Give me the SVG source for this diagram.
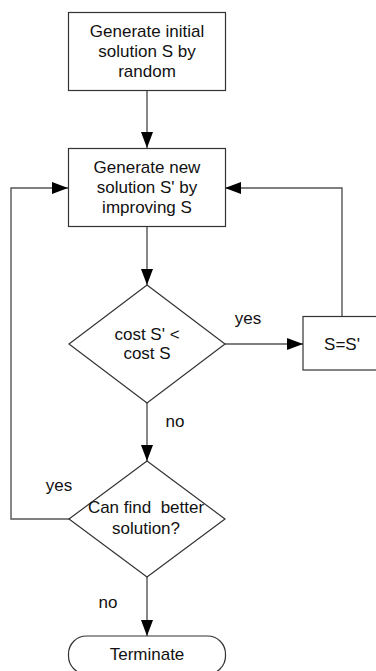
<svg xmlns="http://www.w3.org/2000/svg" width="376" height="671" viewBox="0 0 376 671">
  <defs>
    <marker id="arrow" markerUnits="userSpaceOnUse" markerWidth="17" markerHeight="12" refX="16" refY="6" orient="auto">
      <path d="M0,0 L16,6 L0,12 Z" fill="#000"/>
    </marker>
    <style>
      .shape { fill: #fff; stroke: #333; stroke-width: 1.2; }
      .edge { fill: none; stroke: #555; stroke-width: 1.4; }
      .label { font-family: "Liberation Sans", Arial, sans-serif; font-size: 17px; fill: #111; text-anchor: middle; }
    </style>
  </defs>
  <rect width="376" height="671" fill="#fff"/>

  <g id="connectors">
    <path class="edge" d="M147,90 V148" marker-end="url(#arrow)"/>
    <path class="edge" d="M147,227 V285" marker-end="url(#arrow)"/>
    <path class="edge" d="M225,344 H303" marker-end="url(#arrow)"/>
    <path class="edge" d="M342,316 V188 H225" marker-end="url(#arrow)"/>
    <path class="edge" d="M147,403 V461" marker-end="url(#arrow)"/>
    <path class="edge" d="M69,519 H11 V188 H68" marker-end="url(#arrow)"/>
    <path class="edge" d="M147,577 V636" marker-end="url(#arrow)"/>
    <text class="label" x="248" y="324">yes</text>
    <text class="label" x="175" y="427">no</text>
    <text class="label" x="59" y="491">yes</text>
    <text class="label" x="108" y="608">no</text>
  </g>

  <g id="init">
    <rect class="shape" x="68.5" y="12.5" width="157" height="78"/>
    <text class="label" x="147" y="37">Generate initial</text>
    <text class="label" x="147" y="57">solution S by</text>
    <text class="label" x="147" y="77">random</text>
  </g>

  <g id="generate">
    <rect class="shape" x="68.5" y="148.5" width="157" height="78"/>
    <text class="label" x="147" y="173">Generate new</text>
    <text class="label" x="147" y="193">solution S' by</text>
    <text class="label" x="147" y="213">improving S</text>
  </g>

  <g id="compare">
    <polygon class="shape" points="147,285 225,344 147,403 69,344"/>
    <text class="label" x="147" y="340">cost S' &lt;</text>
    <text class="label" x="147" y="359">cost S</text>
  </g>

  <g id="assign">
    <rect class="shape" x="303" y="316.5" width="82" height="53.5"/>
    <text class="label" x="342" y="350">S=S'</text>
  </g>

  <g id="check">
    <polygon class="shape" points="147,461 225,519 147,577 69,519"/>
    <text class="label" x="146" y="513" xml:space="preserve">Can find  better</text>
    <text class="label" x="146" y="534">solution?</text>
  </g>

  <g id="terminate">
    <rect class="shape" x="68.5" y="636" width="157" height="38" rx="18" ry="18"/>
    <text class="label" x="147" y="660">Terminate</text>
  </g>
</svg>
